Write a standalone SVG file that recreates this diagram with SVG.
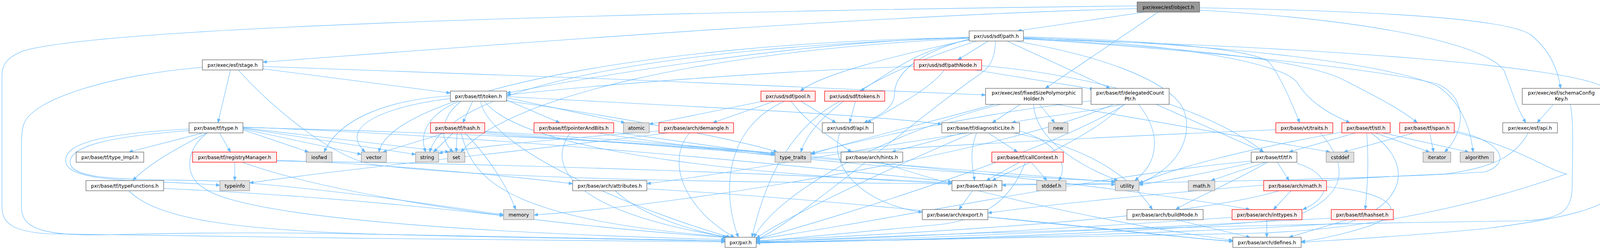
<svg xmlns="http://www.w3.org/2000/svg" width="4141" height="637" viewBox="0 0 4141 637">
<style>
rect{stroke-width:1.3}
.n rect{fill:#ffffff;stroke:#666666}
.r rect{fill:#fff0f0;stroke:#ff0000}
.g rect{fill:#e0e0e0;stroke:#999999}
.root rect{fill:#999999;stroke:#666666}
text{font-family:"DejaVu Sans","Noto Sans",sans-serif;font-size:12.6px;fill:#000000;text-anchor:middle}
#edges path{fill:none;stroke:#63b8ff;stroke-width:1.1;marker-end:url(#ah)}
</style>
<defs>
<marker id="ah" markerUnits="userSpaceOnUse" markerWidth="11" markerHeight="9" refX="10" refY="4" orient="auto">
<path d="M0,0 L10,4 L0,8 z" fill="#63b8ff" stroke="#63b8ff" stroke-width="0.8"/>
</marker>
</defs>
<rect width="4141" height="637" fill="#ffffff"/>
<g id="edges">
<!-- object.h -->
<path d="M2930,31 L2605,79"/>
<path d="M2911,22 C2200,40 1200,120 673,159"/>
<path d="M2911,15 C2000,25 300,60 60,130 C10,150 5,170 5,200 L5,530 C5,575 40,592 120,598 C600,608 1500,615 1856,619"/>
<path d="M2965,31 L2676,226"/>
<path d="M3071,20 C3500,28 3860,45 3920,90 C3975,135 3990,190 3995,226"/>
<path d="M3071,26 C3500,50 3800,110 3850,180 C3870,230 3880,270 3906,314"/>
<!-- path.h -->
<path d="M2549,105 C2545,175 2520,180 2480,210 C2300,340 2050,560 1936,614"/>
<path d="M2481,100 C2330,140 2290,200 2290,240 C2290,280 2240,300 2212,314"/>
<path d="M2481,102 C2300,140 2100,190 2049,233"/>
<path d="M2481,101 C2350,130 2300,170 2203,233"/>
<path d="M2530,105 L2452,153"/>
<path d="M2578,105 L2842,226"/>
<path d="M2620,98 C3000,120 3350,150 3450,210 C3550,260 3600,290 3628,314"/>
<path d="M2620,96 C3000,110 3280,160 3320,210 C3350,260 3400,290 3456,314"/>
<path d="M2481,95 C2000,110 1500,200 1297,238"/>
<path d="M2620,94 C3000,105 3220,130 3250,160 C3280,200 3310,270 3327,314"/>
<path d="M2620,97 C3100,110 3550,160 3680,220 C3740,260 3765,330 3771,389"/>
<path d="M2620,99 C3100,130 3550,180 3680,215 C3760,250 3750,340 3698,389"/>
<path d="M2481,98 C1800,130 1300,250 1180,389"/>
<path d="M2481,97 C1700,120 1150,220 1100,389"/>
<path d="M2500,105 C2200,200 2080,300 2050,389"/>
<path d="M2600,105 C2800,140 2990,200 3030,280 C3060,360 3000,440 2916,468"/>
<path d="M2481,96 C1600,110 1000,250 970,389"/>
<path d="M2620,100 C3400,120 4000,170 4100,220 C4135,240 4135,280 4135,300 L4135,480 C4135,530 4000,560 3800,585 C3600,605 3400,615 3331,620"/>
<!-- stage.h -->
<path d="M518,172 C300,190 80,250 60,320 C55,340 55,360 55,380 L55,530 C55,590 120,605 300,600 C700,590 1000,600 1200,605 C1500,612 1700,615 1856,617"/>
<path d="M590,179 L558,314"/>
<path d="M673,176 L1153,238"/>
<path d="M673,170 C1200,185 2000,220 2523,243"/>
<path d="M610,179 C700,280 850,400 950,420 C1300,470 2400,470 2855,472"/>
<!-- pathNode.h -->
<path d="M2340,170 C2000,180 1500,220 1297,243"/>
<path d="M2417,179 C2390,220 2300,270 2220,314"/>
<path d="M2495,179 L2800,228"/>
<path d="M2513,168 C2800,190 3100,280 3235,389"/>
<!-- token.h -->
<path d="M1210,259 L1185,314"/>
<path d="M1153,245 C1000,255 870,300 830,389"/>
<path d="M1153,252 C1000,270 860,320 935,389"/>
<path d="M1175,259 C1100,290 1070,340 1090,389"/>
<path d="M1180,259 C1130,300 1120,350 1160,389"/>
<path d="M1297,256 L1433,314"/>
<path d="M1297,250 L1600,314"/>
<path d="M1297,247 C1700,270 2200,290 2411,318"/>
<path d="M1240,259 C1350,400 2000,450 2437,470"/>
<path d="M1230,259 C1260,400 1700,560 1870,607"/>
<path d="M1297,258 C1600,300 1900,360 1990,389"/>
<!-- type.h -->
<path d="M520,340 L330,389"/>
<path d="M530,340 C450,380 380,420 340,462"/>
<path d="M562,340 L590,389"/>
<path d="M484,330 C300,340 150,360 170,420 C190,470 400,460 563,474"/>
<path d="M484,334 C300,348 170,370 180,420 C195,470 400,455 600,465 C900,490 1150,530 1289,549"/>
<path d="M531,340 C475,380 470,450 520,480 C600,540 1000,590 1856,613"/>
<path d="M622,332 L790,389"/>
<path d="M622,330 L925,395"/>
<path d="M622,328 L1064,395"/>
<path d="M622,327 L1150,389"/>
<path d="M622,326 C1200,340 1800,370 1984,395"/>
<path d="M622,325 C1300,350 2000,420 2437,465"/>
<!-- typeFunctions.h -->
<path d="M419,482 C800,500 1100,530 1289,552"/>
<path d="M330,488 C400,560 600,590 1000,600 C1400,610 1700,615 1856,616"/>
<!-- registryManager.h -->
<path d="M601,415 L601,462"/>
<path d="M708,410 C1000,420 1300,450 1466,470"/>
<path d="M708,412 C1400,420 2100,450 2437,468"/>
<path d="M620,415 C800,480 1200,560 1860,608"/>
<!-- hash.h -->
<path d="M1140,340 L980,389"/>
<path d="M1160,340 L1110,389"/>
<path d="M1170,340 L1168,389"/>
<path d="M1190,340 C1250,400 1300,480 1320,536"/>
<path d="M1180,340 C1210,440 1250,560 1870,607"/>
<path d="M1241,342 L1984,392"/>
<path d="M1241,338 C1800,380 2500,440 2855,466"/>
<path d="M1241,336 C2000,380 2900,480 3200,536"/>
<!-- pointerAndBits.h -->
<path d="M1460,340 C1400,420 1450,540 1865,607"/>
<path d="M1571,338 L1984,396"/>
<path d="M1530,340 C1900,400 2500,450 2855,464"/>
<!-- demangle.h -->
<path d="M1765,340 C1700,420 1760,540 1880,607"/>
<path d="M1687,335 C1500,350 1250,370 1123,392"/>
<path d="M1710,340 C1400,380 900,430 639,468"/>
<!-- pool.h -->
<path d="M1953,259 L1662,318"/>
<path d="M1982,259 L1825,314"/>
<path d="M2008,259 C1850,330 1850,500 1890,607"/>
<path d="M2050,259 L2140,314"/>
<path d="M2025,259 C2070,320 2140,360 2180,389"/>
<!-- tokens.h -->
<path d="M2190,259 L2175,314"/>
<path d="M2150,259 C2000,340 1950,500 1925,607"/>
<!-- fixedSizePolymorphicHolder.h -->
<path d="M2612,267 L2540,314"/>
<path d="M2661,267 L2700,314"/>
<path d="M2646,267 C2650,350 2750,420 2862,462"/>
<path d="M2546,267 C2350,320 2150,370 2076,395"/>
<path d="M2562,267 C2300,330 2000,480 1930,607"/>
<path d="M2705,267 C3000,320 3300,370 3405,389"/>
<!-- delegatedCountPtr.h -->
<path d="M2870,267 C2800,285 2650,300 2590,314"/>
<path d="M2875,267 C2800,350 2600,430 2540,462"/>
<path d="M2793,258 C2500,290 2200,360 2076,392"/>
<path d="M2915,267 C2980,350 2960,420 2905,462"/>
<path d="M2960,267 L3235,389"/>
<path d="M2880,267 C2700,380 2200,540 1936,612"/>
<path d="M2850,267 C2600,380 1800,520 1367,550"/>
<!-- schemaConfigKey.h -->
<path d="M3977,267 L3935,314"/>
<path d="M4020,267 C4030,320 4025,400 4025,470 C4025,540 4000,560 3900,565 C3500,570 2500,590 1936,620"/>
<!-- exec/esf/api.h -->
<path d="M3912,340 C3880,400 3820,430 3700,445 C3300,460 2700,520 2529,545"/>
<!-- sdf/api.h -->
<path d="M2150,340 C2120,420 2200,520 2361,543"/>
<!-- diagnosticLite.h -->
<path d="M2465,340 L2283,389"/>
<path d="M2530,340 L2605,389"/>
<path d="M2500,340 C2480,390 2490,430 2495,462"/>
<path d="M2610,335 C2700,360 2740,420 2710,462"/>
<path d="M2480,340 C2200,380 1900,440 1656,470"/>
<path d="M2490,340 C2300,420 2000,560 1936,610"/>
<path d="M2595,340 C2800,380 2900,460 2950,536"/>
<!-- vt/traits.h -->
<path d="M3266,332 C2800,350 2300,380 2076,393"/>
<path d="M3380,340 C3450,420 3460,500 3300,560 C2900,600 2300,615 1936,622"/>
<!-- stl.h -->
<path d="M3470,340 L3300,389"/>
<path d="M3499,340 C3505,420 3500,480 3495,536"/>
<path d="M3520,340 L3660,389"/>
<path d="M3540,340 L3760,389"/>
<path d="M3510,340 C3620,420 3600,520 3450,570 C3000,600 2300,615 1936,620"/>
<path d="M3435,338 C3200,380 3000,430 2916,470"/>
<!-- span.h -->
<path d="M3620,340 L3440,389"/>
<path d="M3660,340 L3670,389"/>
<path d="M3723,335 C3850,360 3870,420 3800,440 C3500,460 2800,470 2565,474"/>
<path d="M3723,338 C3900,380 3950,430 4010,445 C3800,520 3500,590 3200,597 C2700,605 2200,615 1936,621"/>
<!-- callContext.h -->
<path d="M2610,415 L2525,462"/>
<path d="M2640,415 L2680,462"/>
<path d="M2625,415 C2600,480 2550,560 2400,575 C2200,595 2000,612 1936,618"/>
<!-- hints.h -->
<path d="M2255,415 C2500,500 2900,580 3156,615"/>
<!-- tf.h -->
<path d="M3210,415 C3100,440 3000,460 2916,473"/>
<path d="M3240,415 L3100,462"/>
<path d="M3270,415 L3300,462"/>
<path d="M3245,415 C3150,470 3050,510 3010,536"/>
<path d="M3320,418 C3400,440 3420,500 3335,536"/>
<path d="M3203,412 C2800,450 2300,560 1936,612"/>
<!-- arch/math.h -->
<path d="M3305,488 L3260,536"/>
<path d="M3396,478 C3550,490 3620,540 3500,580 C3420,605 3360,615 3331,618"/>
<path d="M3275,488 C3100,540 2700,580 1936,616"/>
<!-- attributes.h -->
<path d="M1575,488 C1650,560 1800,595 1860,607"/>
<path d="M1656,483 C2300,520 2900,600 3156,617"/>
<!-- tf/api.h -->
<path d="M2490,488 L2455,536"/>
<!-- export.h -->
<path d="M2529,555 C2800,580 3000,605 3156,618"/>
<!-- buildMode.h -->
<path d="M3010,562 L3200,607"/>
<!-- inttypes.h -->
<path d="M3243,562 L3243,607"/>
<path d="M3154,556 C2800,580 2300,610 1936,618"/>
<!-- hashset.h -->
<path d="M3450,562 L3300,607"/>
<path d="M3408,558 C3000,580 2400,610 1936,621"/>
</g>
<g id="n_object" class="root"><rect x="2911" y="5" width="160" height="26"/><text x="2991" y="22.5">pxr/exec/esf/object.h</text></g>
<g id="n_path" class="n"><rect x="2481" y="79" width="139" height="26"/><text x="2550.5" y="96.5">pxr/usd/sdf/path.h</text></g>
<g id="n_stage" class="n"><rect x="518" y="153" width="155" height="26"/><text x="595.5" y="170.5">pxr/exec/esf/stage.h</text></g>
<g id="n_pathNode" class="r"><rect x="2340" y="153" width="173" height="26"/><text x="2426.5" y="170.5">pxr/usd/sdf/pathNode.h</text></g>
<g id="n_token" class="n"><rect x="1153" y="233" width="144" height="26"/><text x="1225" y="250.5">pxr/base/tf/token.h</text></g>
<g id="n_pool" class="r"><rect x="1948" y="233" width="139" height="26"/><text x="2017.5" y="250.5">pxr/usd/sdf/pool.h</text></g>
<g id="n_tokens" class="r"><rect x="2111" y="233" width="154" height="26"/><text x="2188" y="250.5">pxr/usd/sdf/tokens.h</text></g>
<g id="n_fixedSize" class="n"><rect x="2523" y="226" width="247" height="41"/><text x="2646.5" y="242">pxr/exec/esf/fixedSizePolymorphic</text><text x="2646.5" y="257">Holder.h</text></g>
<g id="n_delegated" class="n"><rect x="2793" y="226" width="200" height="41"/><text x="2893" y="242">pxr/base/tf/delegatedCount</text><text x="2893" y="257">Ptr.h</text></g>
<g id="n_schemaCfg" class="n"><rect x="3897" y="226" width="200" height="41"/><text x="3997" y="242">pxr/exec/esf/schemaConfig</text><text x="3997" y="257">Key.h</text></g>
<g id="n_type" class="n"><rect x="484" y="314" width="138" height="26"/><text x="553" y="331.5">pxr/base/tf/type.h</text></g>
<g id="n_hash" class="r"><rect x="1102" y="314" width="139" height="26"/><text x="1171.5" y="331.5">pxr/base/tf/hash.h</text></g>
<g id="n_pab" class="r"><rect x="1367" y="314" width="204" height="26"/><text x="1469" y="331.5">pxr/base/tf/pointerAndBits.h</text></g>
<g id="n_atomic" class="g"><rect x="1596" y="314" width="66" height="26"/><text x="1629" y="331.5">atomic</text></g>
<g id="n_demangle" class="r"><rect x="1687" y="314" width="191" height="26"/><text x="1782.5" y="331.5">pxr/base/arch/demangle.h</text></g>
<g id="n_sdfapi" class="n"><rect x="2105" y="314" width="131" height="26"/><text x="2170.5" y="331.5">pxr/usd/sdf/api.h</text></g>
<g id="n_diag" class="n"><rect x="2411" y="314" width="199" height="26"/><text x="2510.5" y="331.5">pxr/base/tf/diagnosticLite.h</text></g>
<g id="n_new" class="g"><rect x="2684" y="314" width="50" height="26"/><text x="2709" y="331.5">new</text></g>
<g id="n_vttraits" class="r"><rect x="3266" y="314" width="146" height="26"/><text x="3339" y="331.5">pxr/base/vt/traits.h</text></g>
<g id="n_stl" class="r"><rect x="3435" y="314" width="124" height="26"/><text x="3497" y="331.5">pxr/base/tf/stl.h</text></g>
<g id="n_span" class="r"><rect x="3583" y="314" width="140" height="26"/><text x="3653" y="331.5">pxr/base/tf/span.h</text></g>
<g id="n_esfapi" class="n"><rect x="3847" y="314" width="140" height="26"/><text x="3917" y="331.5">pxr/exec/esf/api.h</text></g>
<g id="n_typeImpl" class="n"><rect x="195" y="389" width="173" height="26"/><text x="281.5" y="406.5">pxr/base/tf/type_Impl.h</text></g>
<g id="n_regmgr" class="r"><rect x="493" y="389" width="215" height="26"/><text x="600.5" y="406.5">pxr/base/tf/registryManager.h</text></g>
<g id="n_iosfwd" class="g"><rect x="784" y="389" width="66" height="26"/><text x="817" y="406.5">iosfwd</text></g>
<g id="n_vector" class="g"><rect x="925" y="389" width="64" height="26"/><text x="957" y="406.5">vector</text></g>
<g id="n_string" class="g"><rect x="1064" y="389" width="59" height="26"/><text x="1093.5" y="406.5">string</text></g>
<g id="n_set" class="g"><rect x="1146" y="389" width="44" height="26"/><text x="1168" y="406.5">set</text></g>
<g id="n_typetraits" class="g"><rect x="1984" y="389" width="92" height="26"/><text x="2030" y="406.5">type_traits</text></g>
<g id="n_hints" class="n"><rect x="2153" y="389" width="158" height="26"/><text x="2232" y="406.5">pxr/base/arch/hints.h</text></g>
<g id="n_callctx" class="r"><rect x="2539" y="389" width="183" height="26"/><text x="2630.5" y="406.5">pxr/base/tf/callContext.h</text></g>
<g id="n_tf" class="n"><rect x="3203" y="389" width="117" height="26"/><text x="3261.5" y="406.5">pxr/base/tf/tf.h</text></g>
<g id="n_cstddef" class="g"><rect x="3395" y="389" width="71" height="26"/><text x="3430.5" y="406.5">cstddef</text></g>
<g id="n_iterator" class="g"><rect x="3643" y="389" width="71" height="26"/><text x="3678.5" y="406.5">iterator</text></g>
<g id="n_algorithm" class="g"><rect x="3738" y="389" width="86" height="26"/><text x="3781" y="406.5">algorithm</text></g>
<g id="n_typefn" class="n"><rect x="220" y="462" width="199" height="26"/><text x="319.5" y="479.5">pxr/base/tf/typeFunctions.h</text></g>
<g id="n_typeinfo" class="g"><rect x="563" y="462" width="76" height="26"/><text x="601" y="479.5">typeinfo</text></g>
<g id="n_attributes" class="n"><rect x="1466" y="462" width="190" height="26"/><text x="1561" y="479.5">pxr/base/arch/attributes.h</text></g>
<g id="n_tfapi" class="n"><rect x="2437" y="462" width="128" height="26"/><text x="2501" y="479.5">pxr/base/tf/api.h</text></g>
<g id="n_stddef" class="g"><rect x="2654" y="462" width="75" height="26"/><text x="2691.5" y="479.5">stddef.h</text></g>
<g id="n_utility" class="g"><rect x="2855" y="462" width="61" height="26"/><text x="2885.5" y="479.5">utility</text></g>
<g id="n_mathh" class="g"><rect x="3042" y="462" width="68" height="26"/><text x="3076" y="479.5">math.h</text></g>
<g id="n_archmath" class="r"><rect x="3235" y="462" width="161" height="26"/><text x="3315.5" y="479.5">pxr/base/arch/math.h</text></g>
<g id="n_memory" class="g"><rect x="1289" y="536" width="78" height="26"/><text x="1328" y="553.5">memory</text></g>
<g id="n_export" class="n"><rect x="2361" y="536" width="168" height="26"/><text x="2445" y="553.5">pxr/base/arch/export.h</text></g>
<g id="n_buildmode" class="n"><rect x="2885" y="536" width="195" height="26"/><text x="2982.5" y="553.5">pxr/base/arch/buildMode.h</text></g>
<g id="n_inttypes" class="r"><rect x="3154" y="536" width="179" height="26"/><text x="3243.5" y="553.5">pxr/base/arch/inttypes.h</text></g>
<g id="n_hashset" class="r"><rect x="3408" y="536" width="159" height="26"/><text x="3487.5" y="553.5">pxr/base/tf/hashset.h</text></g>
<g id="n_pxr" class="n"><rect x="1856" y="607" width="80" height="26"/><text x="1896" y="624.5">pxr/pxr.h</text></g>
<g id="n_defines" class="n"><rect x="3156" y="607" width="175" height="26"/><text x="3243.5" y="624.5">pxr/base/arch/defines.h</text></g>
</svg>
